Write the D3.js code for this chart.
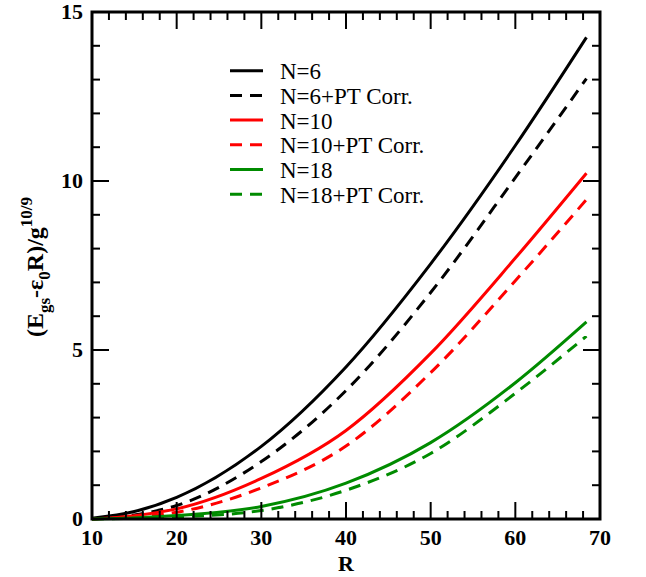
<!DOCTYPE html>
<html>
<head>
<meta charset="utf-8">
<script src="https://cdn.jsdelivr.net/npm/d3@7"></script>
<style>
body{margin:0;background:#fff;}
text{font-family:"Liberation Serif","DejaVu Serif",serif;}
</style>
</head>
<body>
<div id="chart"></div>
<script>
var rVals = [10, 15, 20, 30, 40, 50, 60, 68.4];

var n6      = [0.02, 0.22, 0.64, 2.15, 4.5, 7.55, 11.05, 14.25];
var n6pt    = [0.0, 0.12, 0.4, 1.7, 3.8, 6.7, 10.1, 13.03];
var n10     = [0.0, 0.1, 0.3, 1.2, 2.62, 4.9, 7.72, 10.23];
var n10pt   = [0.0, 0.06, 0.2, 0.92, 2.16, 4.33, 7.05, 9.45];
var n18     = [0.0, 0.03, 0.1, 0.37, 1.06, 2.26, 4.03, 5.83];
var n18pt   = [0.0, 0.02, 0.06, 0.25, 0.85, 1.94, 3.72, 5.41];

var xTicks = [10, 20, 30, 40, 50, 60, 70];
var yTicks = [0, 5, 10, 15];

var series = [
	{name:"N=6", vals:n6, color:"#000000", dash:null},
	{name:"N=6+PT Corr.", vals:n6pt, color:"#000000", dash:"12,8"},
	{name:"N=10", vals:n10, color:"#ff0000", dash:null},
	{name:"N=10+PT Corr.", vals:n10pt, color:"#ff0000", dash:"12,8"},
	{name:"N=18", vals:n18, color:"#008b00", dash:null},
	{name:"N=18+PT Corr.", vals:n18pt, color:"#008b00", dash:"12,8"}
];

var width = 646, height = 577;
var pLeft = 92, pRight = 600, pTop = 12, pBottom = 519;

var svg = d3.select("#chart")
			.append("svg")
			.attr("width", width)
			.attr("height", height);

var x = d3.scaleLinear().domain([10, 70]).range([pLeft, pRight]);
var y = d3.scaleLinear().domain([0, 15]).range([pBottom, pTop]);

// curves
var line = d3.line()
			.x(function(d){ return x(d[0]); })
			.y(function(d){ return y(d[1]); })
			.curve(d3.curveMonotoneX);

series.forEach(function(s){
	svg.append("path")
		.datum(rVals.map(function(r, i){ return [r, s.vals[i]]; }))
		.attr("d", line)
		.attr("fill", "none")
		.attr("stroke", s.color)
		.attr("stroke-width", 3)
		.attr("stroke-dasharray", s.dash);
});

// ticks, pointing inward on all four sides
var tk = svg.append("g").attr("stroke", "#000").attr("stroke-width", 2);
d3.range(10, 70.01, 2).forEach(function(v){
	var len = (v % 10 === 0) ? 17 : 8;
	tk.append("line").attr("x1", x(v)).attr("x2", x(v)).attr("y1", pBottom).attr("y2", pBottom - len);
	tk.append("line").attr("x1", x(v)).attr("x2", x(v)).attr("y1", pTop).attr("y2", pTop + len);
});
d3.range(0, 15.01, 1).forEach(function(v){
	var len = (v % 5 === 0) ? 17 : 8;
	tk.append("line").attr("y1", y(v)).attr("y2", y(v)).attr("x1", pLeft).attr("x2", pLeft + len);
	tk.append("line").attr("y1", y(v)).attr("y2", y(v)).attr("x1", pRight).attr("x2", pRight - len);
});

// frame
svg.append("rect")
	.attr("x", pLeft).attr("y", pTop)
	.attr("width", pRight - pLeft).attr("height", pBottom - pTop)
	.attr("fill", "none")
	.attr("stroke", "#000")
	.attr("stroke-width", 3);

// tick labels
svg.selectAll(".xl").data(xTicks).enter().append("text")
	.attr("x", function(d){ return x(d); })
	.attr("y", 545)
	.attr("text-anchor", "middle")
	.style("font-size", "22px")
	.style("font-weight", "bold")
	.text(function(d){ return d; });

svg.selectAll(".yl").data(yTicks).enter().append("text")
	.attr("x", 83)
	.attr("y", function(d){ return y(d) + 7; })
	.attr("text-anchor", "end")
	.style("font-size", "22px")
	.style("font-weight", "bold")
	.text(function(d){ return d; });

// axis titles
svg.append("text")
	.attr("x", 346)
	.attr("y", 571)
	.attr("text-anchor", "middle")
	.style("font-size", "22px")
	.style("font-weight", "bold")
	.text("R");

var yt = svg.append("text")
	.attr("transform", "translate(43,267) rotate(-90)")
	.attr("text-anchor", "middle")
	.style("font-size", "24px")
	.style("font-weight", "bold");
yt.append("tspan").text("(E");
yt.append("tspan").attr("dy", 7).style("font-size", "17px").text("gs");
yt.append("tspan").attr("dy", -7).text("-\u03b5");
yt.append("tspan").attr("dy", 7).style("font-size", "17px").text("0");
yt.append("tspan").attr("dy", -7).text("R)/g");
yt.append("tspan").attr("dy", -11).style("font-size", "17px").text("10/9");

// legend
var leg = svg.append("g");
series.forEach(function(s, i){
	var cy = 70.7 + i * 24.7;
	leg.append("line")
		.attr("x1", 230).attr("x2", 263)
		.attr("y1", cy).attr("y2", cy)
		.attr("stroke", s.color)
		.attr("stroke-width", 3)
		.attr("stroke-dasharray", s.dash);
	leg.append("text")
		.attr("x", 280)
		.attr("y", cy + 8.5)
		.style("font-size", "23px")
		.text(s.name);
});
</script>
</body>
</html>
